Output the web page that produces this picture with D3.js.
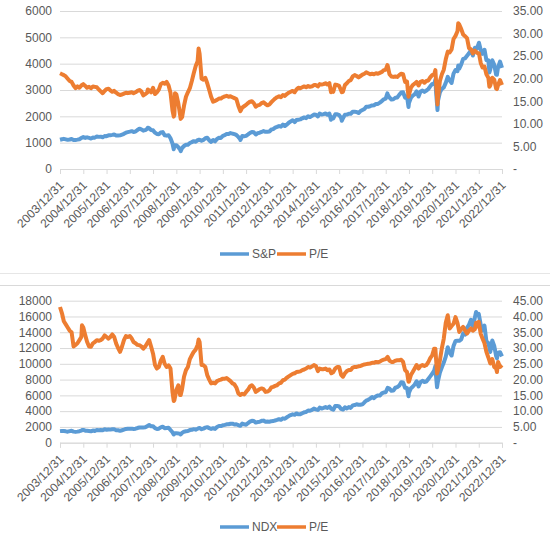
<!DOCTYPE html>
<html><head><meta charset="utf-8">
<script src="https://cdn.jsdelivr.net/npm/d3@7"></script>
<style>
html,body{margin:0;padding:0;background:#fff;}
svg{display:block;font-family:"Liberation Sans",Arial,sans-serif;}
</style></head>
<body>
<svg id="c" width="550" height="541"></svg>
<script>
// ---- DATA (monthly closes, Dec 2003 .. Dec 2022, month-end) ----
const spx = [1112,
1131,1145,1126,1107,1121,1141,1102,1104,1115,1130,1174,1212,
1181,1204,1181,1157,1192,1191,1234,1220,1229,1207,1249,1248,
1280,1281,1295,1311,1270,1270,1277,1304,1336,1378,1401,1418,
1438,1407,1421,1482,1531,1503,1455,1474,1527,1549,1481,1468,
1379,1331,1323,1386,1400,1280,1267,1283,1166,969,896,903,
826,735,798,873,919,919,987,1021,1057,1036,1096,1115,
1074,1104,1169,1187,1089,1031,1102,1049,1141,1183,1181,1258,
1286,1327,1326,1364,1345,1321,1292,1219,1131,1253,1247,1258,
1312,1366,1408,1398,1310,1362,1379,1407,1441,1412,1416,1426,
1498,1515,1569,1598,1631,1606,1686,1633,1682,1757,1806,1848,
1783,1859,1872,1884,1924,1960,1931,2003,1972,2018,2068,2059,
1995,2104,2068,2086,2107,2063,2104,1972,1920,2079,2080,2044,
1940,1932,2060,2065,2097,2099,2174,2171,2168,2126,2199,2239,
2279,2364,2363,2384,2412,2423,2470,2472,2519,2575,2648,2674,
2824,2714,2641,2648,2705,2718,2816,2902,2914,2712,2760,2507,
2704,2784,2834,2946,2752,2942,2980,2926,2977,3038,3141,3231,
3226,2954,2585,2912,3044,3100,3271,3500,3363,3270,3622,3756,
3714,3811,3973,4181,4204,4298,4395,4523,4308,4605,4567,4766,
4516,4374,4530,4132,4132,3785,4130,3955,3586,3872,4080,3840];
const spxPE = [21.2,
21.0,20.8,20.5,20.0,19.5,19.3,18.5,17.9,18.3,18.0,18.5,18.8,
18.4,18.0,18.2,17.9,18.3,18.2,18.1,17.6,17.2,16.8,17.3,17.7,
17.8,17.4,17.1,17.3,16.9,16.6,16.4,16.5,16.7,16.9,16.8,16.9,
17.0,16.8,17.0,17.3,17.5,17.2,16.3,16.6,16.9,17.4,17.0,18.0,
16.6,17.0,17.6,18.8,19.1,18.9,19.3,18.5,16.9,13.0,12.0,16.5,
14.5,12.0,11.5,14.0,16.0,17.0,17.9,19.5,21.2,22.8,23.9,25.5,
20.0,19.8,20.2,19.0,17.5,16.0,14.9,15.1,15.3,15.6,15.6,15.9,
16.1,16.2,16.0,16.1,15.9,15.7,15.5,14.0,12.9,13.6,13.9,14.2,
14.6,14.9,15.0,14.6,13.8,14.1,14.2,14.6,14.8,14.4,14.1,14.3,
14.8,15.2,15.6,15.9,16.1,15.9,16.4,16.2,16.6,16.9,17.1,17.3,
17.0,17.6,18.0,17.9,18.1,18.3,18.1,18.4,18.2,18.3,18.6,18.6,
18.3,18.8,18.7,18.8,19.0,18.7,19.0,17.6,17.1,18.7,18.6,18.4,
17.4,17.1,18.6,19.0,19.5,19.7,20.5,20.8,20.6,20.3,20.6,20.9,
21.1,21.4,21.2,21.0,21.1,21.0,21.2,21.1,21.3,21.5,21.9,22.0,
22.9,21.0,20.5,20.4,20.5,20.4,20.8,21.1,21.0,19.3,19.4,16.4,
18.0,18.6,18.9,19.3,18.5,19.3,19.5,19.1,19.5,19.6,20.3,20.8,
21.0,19.5,15.8,19.5,21.0,22.0,24.3,26.0,25.8,26.5,28.8,29.5,
30.5,32.0,31.0,29.8,29.4,29.0,26.8,26.5,25.6,26.2,25.8,25.5,
23.5,22.5,22.7,21.0,20.2,18.5,20.2,19.8,17.8,18.6,19.7,18.6];
const spxExtraDates = ["2007-10-09","2008-11-20","2008-12-10","2009-03-09","2009-12-15","2011-10-03","2015-08-25","2016-02-11","2018-01-26","2018-12-24","2020-02-19","2020-03-23","2021-02-12","2022-01-03","2022-06-16","2022-10-12"];
const spxExtra   = [1565,752,900,677,1108,1099,1868,1829,2873,2351,3386,2237,3934,4797,3667,3577];
const spxPEExtra = [17.6,11.6,16.8,11.1,26.7,12.8,17.0,17.0,23.0,16.0,21.9,14.3,32.3,25.6,18.2,17.7];

const ndx = [1468,
1494,1469,1439,1398,1468,1517,1405,1371,1406,1460,1544,1622,
1519,1508,1483,1438,1542,1494,1605,1581,1601,1579,1694,1645,
1684,1658,1703,1700,1584,1575,1502,1579,1654,1742,1766,1757,
1783,1742,1772,1861,1926,1934,1932,1947,2092,2238,2092,2085,
1840,1749,1781,1940,2031,1837,1872,1903,1612,1325,1191,1212,
1175,1114,1237,1398,1446,1477,1599,1633,1717,1652,1763,1860,
1709,1784,1910,1970,1845,1745,1834,1753,1992,2115,2105,2218,
2262,2335,2338,2405,2407,2304,2339,2235,2142,2418,2328,2278,
2489,2664,2776,2750,2554,2615,2655,2773,2799,2664,2677,2660,
2731,2738,2818,2887,2987,2910,3084,3033,3218,3372,3500,3592,
3532,3710,3596,3607,3736,3850,3896,4082,4050,4158,4333,4236,
4151,4445,4334,4415,4509,4397,4588,4274,4182,4648,4665,4593,
4279,4201,4484,4341,4524,4418,4730,4771,4875,4801,4810,4864,
5118,5330,5436,5584,5788,5647,5880,5988,5980,6248,6367,6397,
6950,6854,6581,6606,6967,7040,7232,7658,7627,6967,6949,6330,
6907,7097,7378,7781,7127,7671,7848,7692,7750,8083,8403,8733,
9151,8462,7813,8890,9556,10157,10906,12110,11418,11052,12268,12888,
12925,12909,13091,13861,13687,14554,14960,15583,14689,15850,16135,16320,
14930,14238,14839,12855,12643,11504,12947,12272,10971,11405,11468,10940];
const ndxPE = [43.0,
41.0,38.5,37.5,36.5,35.5,35.0,30.5,31.0,31.5,32.5,33.5,36.5,
34.0,32.0,30.5,30.4,31.5,31.9,32.5,32.3,32.5,33.0,34.0,33.5,
33.0,33.5,34.3,33.5,31.4,30.0,28.8,30.5,32.5,33.8,33.5,33.8,
33.0,31.9,31.5,31.0,30.9,30.5,29.8,30.5,31.5,32.5,30.5,28.2,
24.6,23.5,24.0,26.0,27.2,25.0,24.0,24.5,23.5,16.1,13.5,16.7,
18.2,15.1,17.0,20.9,23.0,24.0,26.5,27.7,28.8,29.5,31.0,31.9,
24.6,24.6,24.0,21.4,20.0,18.8,19.0,18.8,19.5,19.8,20.0,20.3,
20.3,20.5,20.0,19.5,18.8,18.5,17.5,15.6,15.1,15.5,15.3,16.1,
16.8,17.8,18.2,17.5,16.1,16.5,17.0,17.2,17.0,16.1,16.2,16.6,
17.5,17.7,18.0,18.2,18.8,19.0,19.8,20.0,20.6,21.0,21.4,21.8,
22.0,22.4,22.5,22.6,23.0,23.2,23.5,24.0,23.8,24.2,24.6,24.3,
22.7,23.5,23.3,23.3,23.5,23.0,23.2,22.0,22.4,23.5,24.0,24.0,
21.5,20.9,22.0,22.7,23.0,23.0,23.8,24.0,24.0,24.2,24.3,24.6,
24.8,24.9,25.0,25.1,25.3,25.3,25.6,25.5,25.7,26.1,26.3,26.5,
27.2,26.0,25.6,25.6,26.0,26.1,26.1,26.3,25.6,23.0,22.4,19.3,
21.5,22.4,23.5,24.6,23.5,24.3,24.6,24.3,24.6,25.5,26.8,27.7,
29.8,26.7,23.0,26.1,30.0,33.0,38.0,40.4,36.2,37.0,37.7,39.8,
38.0,35.1,36.0,36.7,35.5,34.6,35.5,36.2,35.5,36.0,36.7,38.3,
34.5,33.0,31.5,28.8,27.0,25.1,26.5,24.0,23.5,25.6,24.0,24.6];
const ndxExtraDates = ["2004-12-10","2008-11-20","2009-03-09","2009-12-15","2018-12-24","2020-02-19","2020-03-16","2021-11-19","2022-10-13"];
const ndxExtra   = [1600,1036,1043,1830,5899,9719,7020,16573,10690];
const ndxPEExtra = [37.2,13.2,15.1,32.7,19.3,29.8,21.9,38.0,22.4];

const yearTicks = ["2003/12/31","2004/12/31","2005/12/31","2006/12/31","2007/12/31","2008/12/31","2009/12/31","2010/12/31","2011/12/31","2012/12/31","2013/12/31","2014/12/31","2015/12/31","2016/12/31","2017/12/31","2018/12/31","2019/12/31","2020/12/31","2021/12/31","2022/12/31"];

// ---- BUILD ----
const parseSlash = d3.timeParse("%Y/%m/%d");
const parseDash = d3.timeParse("%Y-%m-%d");
function monthEnd(i){ return new Date(2003, 12 + i, 0); } // i=0 -> 2003-12-31
function build(vals, pes, exDates, exVals, exPes){
  const rows = vals.map((v,i)=>({date:monthEnd(i), v:v, pe:pes[i]}));
  exDates.forEach((d,i)=>rows.push({date:parseDash(d), v:exVals[i], pe:exPes[i]}));
  rows.sort((a,b)=>a.date-b.date);
  return rows;
}

const svg = d3.select("#c");
const X0 = 60, X1 = 502;
const x = d3.scaleTime().domain([parseSlash(yearTicks[0]), parseSlash(yearTicks[yearTicks.length-1])]).range([X0, X1]);
const tickDates = yearTicks.map(parseSlash);
const BLUE = "#5B9BD5", ORANGE = "#ED7D31", GRID = "#d9d9d9", TXT = "#595959";
const FONT = '"Liberation Sans",Arial,sans-serif';

function chart(cfg){
  const g = svg.append("g");
  const yL = d3.scaleLinear().domain([0, cfg.leftMax]).range([cfg.yBot, cfg.yTop]);
  const yR = d3.scaleLinear().domain([0, cfg.rightMax]).range([cfg.yBot, cfg.yTop]);
  const leftTicks = d3.range(0, cfg.leftMax + 1, cfg.leftStep);
  const rightTicks = d3.range(0, cfg.rightMax + 0.001, 5);

  // grid
  const grid = g.append("g").attr("transform", `translate(${X0},0)`)
    .call(d3.axisLeft(yL).tickValues(leftTicks).tickSize(-(X1 - X0)).tickFormat(""));
  grid.select(".domain").remove();
  grid.selectAll("line").attr("stroke", GRID).attr("stroke-width", 1);

  // left labels
  const la = g.append("g").attr("transform", `translate(${X0},0)`)
    .call(d3.axisLeft(yL).tickValues(leftTicks).tickSize(0).tickPadding(8).tickFormat(d3.format("d")));
  la.select(".domain").remove();
  la.selectAll("text").attr("fill", TXT).style("font-size", "12px").style("font-family", FONT);

  // right labels
  const ra = g.append("g").attr("transform", `translate(${X1},0)`)
    .call(d3.axisRight(yR).tickValues(rightTicks).tickSize(0).tickPadding(11)
      .tickFormat(d => d === 0 ? "-" : d3.format(".2f")(d)));
  ra.select(".domain").remove();
  ra.selectAll("text").attr("fill", TXT).style("font-size", "12px").style("font-family", FONT);

  // x axis
  const xa = g.append("g").attr("transform", `translate(0,${cfg.yBot})`)
    .call(d3.axisBottom(x).tickValues(tickDates).tickSize(5).tickFormat(d3.timeFormat("%Y/%m/%d")));
  xa.select(".domain").attr("stroke", GRID);
  xa.selectAll("line").attr("stroke", GRID);
  xa.selectAll("text").attr("fill", TXT).style("font-size", "12px").style("font-family", FONT)
    .attr("text-anchor", "end").attr("x", 0).attr("y", 0).attr("dy", "0.35em")
    .attr("transform", "translate(1,14) rotate(-45)");

  // lines
  const data = cfg.data;
  g.append("path").datum(data).attr("fill", "none").attr("stroke", BLUE).attr("stroke-width", 4)
    .attr("stroke-linejoin", "round")
    .attr("d", d3.line().x(d => x(d.date)).y(d => yL(d.v)));
  g.append("path").datum(data).attr("fill", "none").attr("stroke", ORANGE).attr("stroke-width", 4)
    .attr("stroke-linejoin", "round")
    .attr("d", d3.line().x(d => x(d.date)).y(d => yR(d.pe)));

  // legend
  const lg = g.append("g");
  const items = [{name: cfg.names[0], c: BLUE, x: 220}, {name: cfg.names[1], c: ORANGE, x: 277}];
  items.forEach(it => {
    lg.append("line").attr("x1", it.x).attr("x2", it.x + 29).attr("y1", cfg.legendY).attr("y2", cfg.legendY)
      .attr("stroke", it.c).attr("stroke-width", 3.5);
    lg.append("text").attr("x", it.x + 32).attr("y", cfg.legendY).attr("dy", "0.35em")
      .attr("fill", TXT).style("font-size", "12px").style("font-family", FONT).text(it.name);
  });
}

chart({yTop: 11, yBot: 169, leftMax: 6000, leftStep: 1000, rightMax: 35, legendY: 254,
  names: ["S&P", "P/E"], data: build(spx, spxPE, spxExtraDates, spxExtra, spxPEExtra)});
chart({yTop: 300.7, yBot: 442.7, leftMax: 18000, leftStep: 2000, rightMax: 45, legendY: 527,
  names: ["NDX", "P/E"], data: build(ndx, ndxPE, ndxExtraDates, ndxExtra, ndxPEExtra)});

// separators between the two chart boxes
svg.append("line").attr("x1", 0).attr("x2", 550).attr("y1", 273.5).attr("y2", 273.5).attr("stroke", "#e6e6e6");
svg.append("line").attr("x1", 0).attr("x2", 550).attr("y1", 285.5).attr("y2", 285.5).attr("stroke", "#d9d9d9");
</script>
</body></html>
